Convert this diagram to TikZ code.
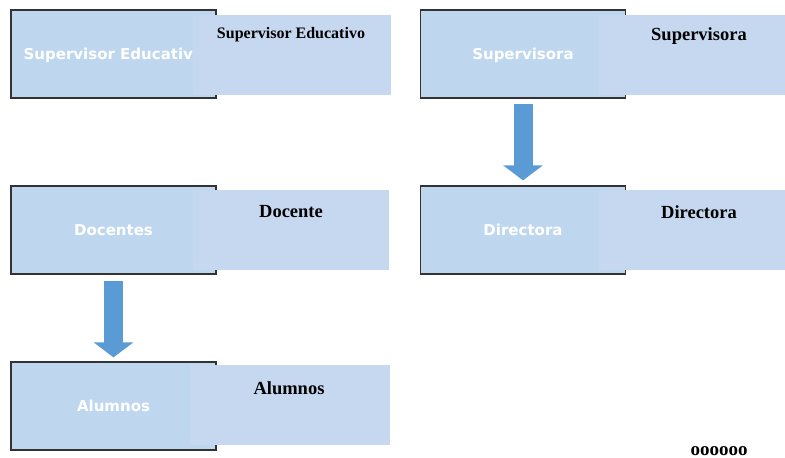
\documentclass[tikz,border=0pt]{standalone}
\usepackage{fontspec}
\setmainfont{Liberation Serif}
\newfontfamily\boxfont{DejaVu Sans}
\usetikzlibrary{arrows.meta,calc}
\definecolor{boxfill}{HTML}{BED7EE}
\definecolor{overfill}{HTML}{C5D8F0}
\definecolor{arrowblue}{HTML}{5B9BD5}
\definecolor{edgegray}{HTML}{333333}
\tikzset{
  mainbox/.style={draw=edgegray, line width=1.3pt, fill=boxfill, minimum width=205pt, minimum height=88pt, inner sep=0pt, text=white, text depth=0pt, font=\boxfont\bfseries\fontsize{15}{17}\selectfont},
  overbox/.style={fill=overfill, draw=none, minimum height=80pt, inner sep=0pt},
  headtext/.style={font=\bfseries\fontsize{18.5}{20}\selectfont, inner sep=0pt, text=black},
  bigarrow/.style={draw=arrowblue, line width=19pt, line cap=butt, -{Triangle[length=15pt, width=39pt]}}
}
\begin{document}
\begin{tikzpicture}[x=1pt,y=-1pt]
\useasboundingbox (0,0) rectangle (785,458);
% boxes
\node[mainbox] (supedu) at (113.5,54) {Supervisor Educativo};
\node[overbox, minimum width=198pt] (supeduO) at (292,55) {};
\node[headtext, font=\bfseries\fontsize{16}{18}\selectfont] (supeduT) at (291,35) {Supervisor Educativo};

\node[mainbox] (supa) at (523,54) {Supervisora};
\node[overbox, minimum width=186pt] (supaO) at (692,55) {};
\node[headtext] (supaT) at (699,36) {Supervisora};

\node[mainbox] (doc) at (113.5,230) {Docentes};
\node[overbox, minimum width=196pt] (docO) at (291,230) {};
\node[headtext] (docT) at (291,212) {Docente};

\node[mainbox] (dir) at (523,230) {Directora};
\node[overbox, minimum width=186pt] (dirO) at (692,230) {};
\node[headtext] (dirT) at (699,212) {Directora};

\node[mainbox] (alu) at (113.5,406) {Alumnos};
\node[overbox, minimum width=200pt] (aluO) at (290,405) {};
\node[headtext] (aluT) at (289,388) {Alumnos};

\node[font=\bfseries\fontsize{19}{20}\selectfont, inner sep=0pt] (oo) at (719,451) {oooooo};

% arrows
\draw[bigarrow] ($(supa.south)+(0,5)$) -- ($(dir.north)+(0,-5)$);
\draw[bigarrow] ($(doc.south)+(0,6)$) -- ($(alu.north)+(0,-4)$);
\end{tikzpicture}
\end{document}
